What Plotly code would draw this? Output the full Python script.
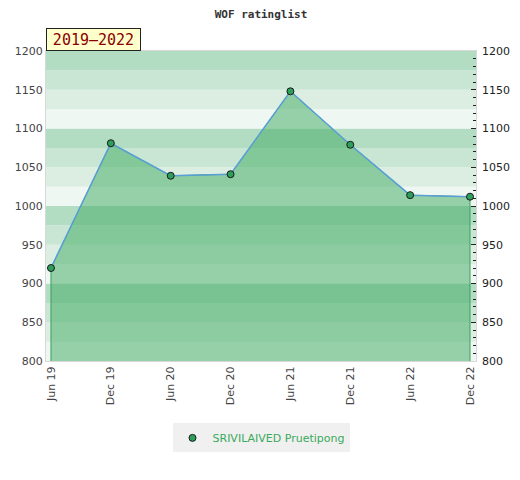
import plotly.graph_objects as go

# WOF rating history
periods = ["Jun 19", "Dec 19", "Jun 20", "Dec 20", "Jun 21", "Dec 21", "Jun 22", "Dec 22"]
ratings = [920, 1081, 1039, 1041, 1148, 1079, 1014, 1012]
player = "SRIVILAIVED Pruetipong"
span_label = "2019–2022"

y_min, y_max = 800, 1200
idx = list(range(len(periods)))

fig = go.Figure()

# background bands: every 100 points split into four shades, darkest on top
band_colors = ["#eef7f1", "#dcede2", "#c8e6d3", "#b3ddc3"]
for lo in range(y_min, y_max, 25):
    fig.add_shape(
        type="rect", xref="paper", yref="y", x0=0, x1=1, y0=lo, y1=lo + 25,
        fillcolor=band_colors[(lo // 25) % 4], line=dict(width=0), layer="below",
    )

# filled area under the rating line
fig.add_trace(
    go.Scatter(
        x=[idx[0]] + idx + [idx[-1]],
        y=[y_min] + ratings + [y_min],
        mode="lines",
        fill="toself",
        fillcolor="rgba(62,170,95,0.5)",
        line=dict(color="#3aa05c", width=1),
        hoverinfo="skip",
        showlegend=False,
    )
)
fig.add_trace(
    go.Scatter(
        x=idx,
        y=ratings,
        mode="lines+markers",
        line=dict(color="#5a9fd8", width=1.5),
        marker=dict(color="#2e9e5b", size=7, line=dict(color="#1a1a1a", width=1)),
        name=player,
        showlegend=False,
    )
)
# legend entry only shows the marker
fig.add_trace(
    go.Scatter(
        x=[None], y=[None], mode="markers",
        marker=dict(color="#2e9e5b", size=7, line=dict(color="#1a1a1a", width=1)),
        name=player,
    )
)
# dummy trace so the right axis is drawn
fig.add_trace(go.Scatter(x=[None], y=[None], yaxis="y2", showlegend=False, hoverinfo="skip"))

# the page body adds ~7px offset, so margins are shifted to compensate
axis_font = dict(family="DejaVu Sans", size=11, color="#444444")
fig.update_layout(
    width=520,
    height=480,
    margin=dict(l=38, r=52, t=43, b=127, autoexpand=False),
    paper_bgcolor="white",
    plot_bgcolor="white",
    title=dict(
        text="<b>WOF ratinglist</b>",
        x=(260 - 7) / 520, xanchor="center", y=1 - 6 / 480, yanchor="middle",
        font=dict(family="DejaVu Sans Mono", size=11, color="#333333"),
    ),
    xaxis=dict(
        range=[-0.083, 7.1],
        tickmode="array",
        tickvals=idx,
        ticktext=periods,
        tickangle=-90,
        tickfont=axis_font,
        showgrid=False,
        zeroline=False,
        showline=True,
        linecolor="#d8d8d8",
        mirror=True,
        ticks="",
        automargin=False,
    ),
    yaxis=dict(
        range=[y_min, y_max],
        dtick=50,
        tickfont=axis_font,
        showgrid=False,
        zeroline=False,
        showline=True,
        linecolor="#d8d8d8",
        mirror=True,
        ticks="",
        automargin=False,
    ),
    yaxis2=dict(
        overlaying="y",
        side="right",
        range=[y_min, y_max],
        dtick=50,
        tickfont=dict(family="DejaVu Sans", size=11, color="#222222"),
        showgrid=False,
        zeroline=False,
        ticks="inside",
        ticklen=5,
        tickcolor="#222222",
        ticklabelstandoff=5,
        minor=dict(dtick=10, ticks="inside", ticklen=3, tickcolor="#222222"),
        automargin=False,
    ),
    legend=dict(
        orientation="h",
        x=0.5, xanchor="center",
        y=-0.248, yanchor="middle",
        bgcolor="#f0f0f0",
        font=dict(family="DejaVu Sans", size=11, color="#3aaa5c"),
    ),
    annotations=[
        dict(
            text=span_label,
            xref="paper", yref="paper", x=0, y=1,
            xanchor="left", yanchor="bottom",
            showarrow=False,
            width=85,
            height=13,
            bgcolor="#ffffcc",
            bordercolor="#222222",
            borderwidth=1,
            borderpad=4,
            font=dict(family="DejaVu Sans Mono", size=15, color="#8b0000"),
        )
    ],
)

fig.write_html("out.html")
